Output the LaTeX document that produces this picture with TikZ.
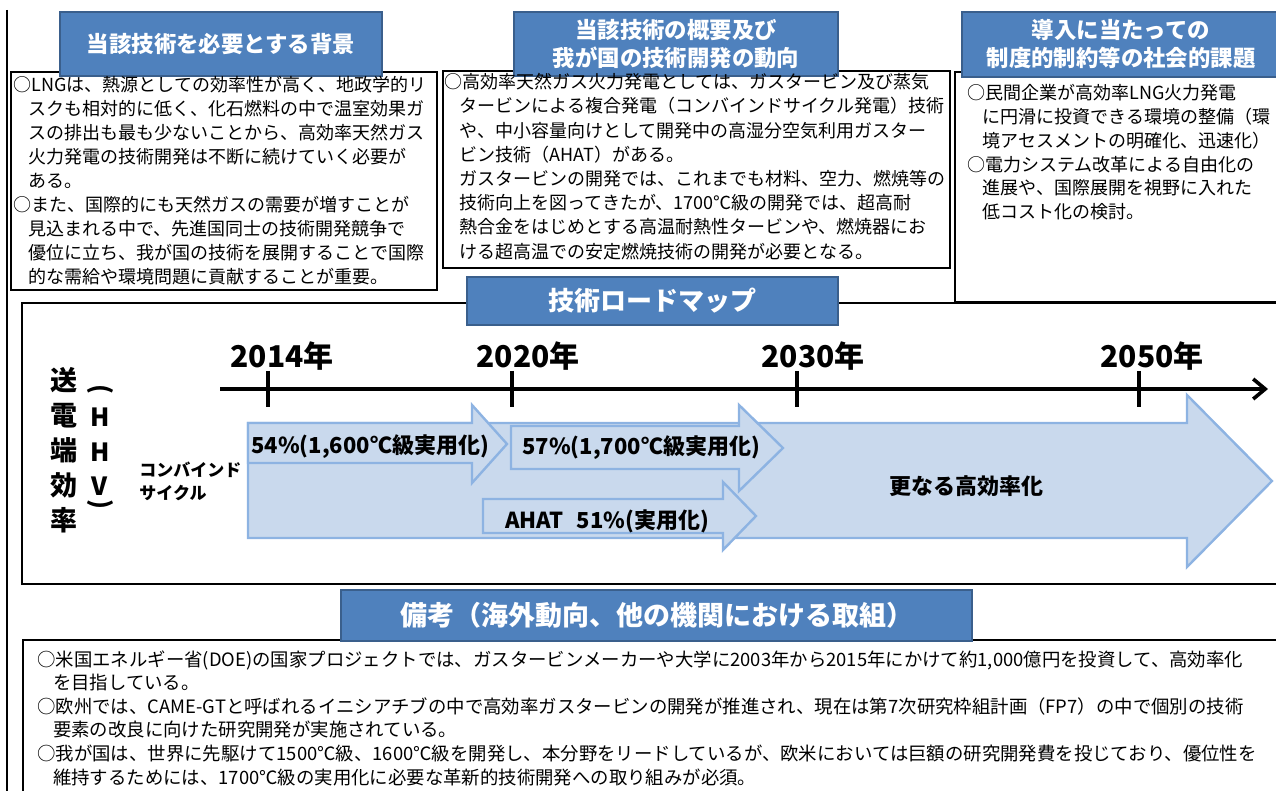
\documentclass[tikz,border=0pt]{standalone}
\usepackage{fontspec}
\newfontfamily\jp{Noto Sans CJK JP}
\usetikzlibrary{arrows.meta}
\definecolor{hdrblue}{HTML}{4F81BD}
\definecolor{hdredge}{HTML}{3A5F8C}
\definecolor{arrfill}{HTML}{C9D9ED}
\definecolor{arredge}{HTML}{8DB3E2}
\newcommand{\ind}{\hspace*{0.85em}}
\tikzset{
  hdr/.style={fill=hdrblue, draw=hdredge, line width=1.2pt, text=white, align=center, inner sep=0pt,
    font=\jp\bfseries\fontsize{11.2}{14}\selectfont},
  txtbox/.style={draw=black, line width=0.9pt},
  bodytext/.style={anchor=north west, inner sep=0pt, align=left, font=\jp\fontsize{9.1}{12}\selectfont},
  year/.style={font=\jp\bfseries\fontsize{15}{15}\selectfont},
  tick/.style={line width=1.8pt},
  blockarrow/.style={fill=arrfill, draw=arredge, line width=1.2pt},
  arrlabel/.style={inner sep=0pt, font=\jp\bfseries\fontsize{11}{12}\selectfont},
  hhv/.style={inner sep=0pt, font=\jp\bfseries\fontsize{12.5}{12.5}\selectfont},
}
\begin{document}
\begin{tikzpicture}[x=0.5pt, y=-0.5pt]
    \useasboundingbox (0,0) rectangle (1276,791);
    \draw[line width=0.8pt] (7,10) -- (7,791);
    % boxes
    \draw[txtbox] (11,72) rectangle (437,290);
    \draw[txtbox] (443,71) rectangle (950,268);
    \draw[txtbox] (955,72) rectangle (1290,302);
    \draw[txtbox] (22,303) rectangle (1290,584);
    \draw[txtbox] (23,640) rectangle (1290,800);
    % headers
    \node[hdr, minimum width=161pt, minimum height=32pt] (bghdr) at (221,44) {当該技術を必要とする背景};
    \node[hdr, minimum width=162pt, minimum height=32pt] (ovhdr) at (676,44) {当該技術の概要及び\\我が国の技術開発の動向};
    \node[hdr, minimum width=159pt, minimum height=32.5pt] (ishdr) at (1121,44.5) {導入に当たっての\\制度的制約等の社会的課題};
    \node[hdr, minimum width=185.5pt, minimum height=24pt, font=\jp\bfseries\fontsize{13}{14}\selectfont] (rmhdr) at (652.5,301) {技術ロードマップ};
    \node[hdr, minimum width=315.5pt, minimum height=25.5pt, font=\jp\bfseries\fontsize{13.5}{14}\selectfont] (nthdr) at (656.5,615.5) {備考（海外動向、他の機関における取組）};
    % box texts
    \node[bodytext, font=\jp\fontsize{9}{12}\selectfont] (bgtext) at (13,76) {○LNGは、熱源としての効率性が高く、地政学的リ\\
      \ind スクも相対的に低く、化石燃料の中で温室効果ガ\\
      \ind スの排出も最も少ないことから、高効率天然ガス\\
      \ind 火力発電の技術開発は不断に続けていく必要が\\
      \ind ある。\\
      ○また、国際的にも天然ガスの需要が増すことが\\
      \ind 見込まれる中で、先進国同士の技術開発競争で\\
      \ind 優位に立ち、我が国の技術を展開することで国際\\
      \ind 的な需給や環境問題に貢献することが重要。};
    \node[bodytext, font=\jp\fontsize{9}{12.1}\selectfont] (ovtext) at (444,73) {○高効率天然ガス火力発電としては、ガスタービン及び蒸気\\
      \ind タービンによる複合発電（コンバインドサイクル発電）技術\\
      \ind や、中小容量向けとして開発中の高湿分空気利用ガスター\\
      \ind ビン技術（AHAT）がある。\\
      \ind ガスタービンの開発では、これまでも材料、空力、燃焼等の\\
      \ind 技術向上を図ってきたが、1700℃級の開発では、超高耐\\
      \ind 熱合金をはじめとする高温耐熱性タービンや、燃焼器にお\\
      \ind ける超高温での安定燃焼技術の開発が必要となる。};
    \node[bodytext, font=\jp\fontsize{9}{11.9}\selectfont] (istext) at (967,84) {○民間企業が高効率LNG火力発電\\
      \ind に円滑に投資できる環境の整備（環\\
      \ind 境アセスメントの明確化、迅速化）\\
      ○電力システム改革による自由化の\\
      \ind 進展や、国際展開を視野に入れた\\
      \ind 低コスト化の検討。};
    \node[bodytext, font=\jp\fontsize{9.2}{11.8}\selectfont] (nttext) at (37,650) {○米国エネルギー省(DOE)の国家プロジェクトでは、ガスタービンメーカーや大学に2003年から2015年にかけて約1,000億円を投資して、高効率化\\
      \ind を目指している。\\
      ○欧州では、CAME-GTと呼ばれるイニシアチブの中で高効率ガスタービンの開発が推進され、現在は第7次研究枠組計画（FP7）の中で個別の技術\\
      \ind 要素の改良に向けた研究開発が実施されている。\\
      ○我が国は、世界に先駆けて1500℃級、1600℃級を開発し、本分野をリードしているが、欧米においては巨額の研究開発費を投じており、優位性を\\
      \ind 維持するためには、1700℃級の実用化に必要な革新的技術開発への取り組みが必須。};
    % roadmap
    \coordinate (t0) at (220,389);
    \coordinate (t1) at (1268,389);
    \draw[line width=1.8pt, -{Straight Barb[length=6pt,width=10pt]}] (t0) -- (t1);
    \draw[tick] (268,371) -- (268,407);
    \draw[tick] (512,371) -- (512,407);
    \draw[tick] (797,371) -- (797,407);
    \draw[tick] (1139,371) -- (1139,407);
    \node[year] (y2014) at (282,356) {2014年};
    \node[year] (y2020) at (528,356) {2020年};
    \node[year] (y2030) at (813,356) {2030年};
    \node[year] (y2050) at (1152,356) {2050年};
    \filldraw[blockarrow] (248,423) -- (1187,423) -- (1187,395) -- (1272,481) -- (1187,567) -- (1187,538) -- (248,538) -- cycle;
    \filldraw[blockarrow] (248,423) -- (472,423) -- (472,405) -- (507,444) -- (472,483) -- (472,463) -- (248,463) -- cycle;
    \filldraw[blockarrow] (511,426) -- (739,426) -- (739,405) -- (783,448) -- (739,491) -- (739,469) -- (511,469) -- cycle;
    \filldraw[blockarrow] (483,499) -- (723,499) -- (723,482) -- (756,516) -- (723,550) -- (723,533) -- (483,533) -- cycle;
    \node[arrlabel, anchor=west] (cc1600) at (251,447) {54\%(1,600℃級実用化)};
    \node[arrlabel, anchor=west] (cc1700) at (522,448) {57\%(1,700℃級実用化)};
    \node[arrlabel, anchor=west] (ahat) at (505,521) {AHAT\hspace{0.6em}51\%(実用化)};
    \node[arrlabel] (further) at (966,486) {更なる高効率化};
    % left labels
    \node[align=center, inner sep=0pt, font=\jp\bfseries\fontsize{13.5}{17.5}\selectfont] (eff) at (64,450) {送\\電\\端\\効\\率};
    \node[hhv, rotate=-90] (lp) at (100,390) {(};
    \node[hhv] (h1) at (100,417) {H};
    \node[hhv] (h2) at (100,452) {H};
    \node[hhv] (v1) at (100,486) {V};
    \node[hhv, rotate=-90] (rp) at (100,505) {)};
    \node[align=left, anchor=west, inner sep=0pt, font=\jp\bfseries\fontsize{8.5}{11.5}\selectfont] (cc) at (139,481) {コンバインド\\サイクル};
  \end{tikzpicture}
\end{document}
